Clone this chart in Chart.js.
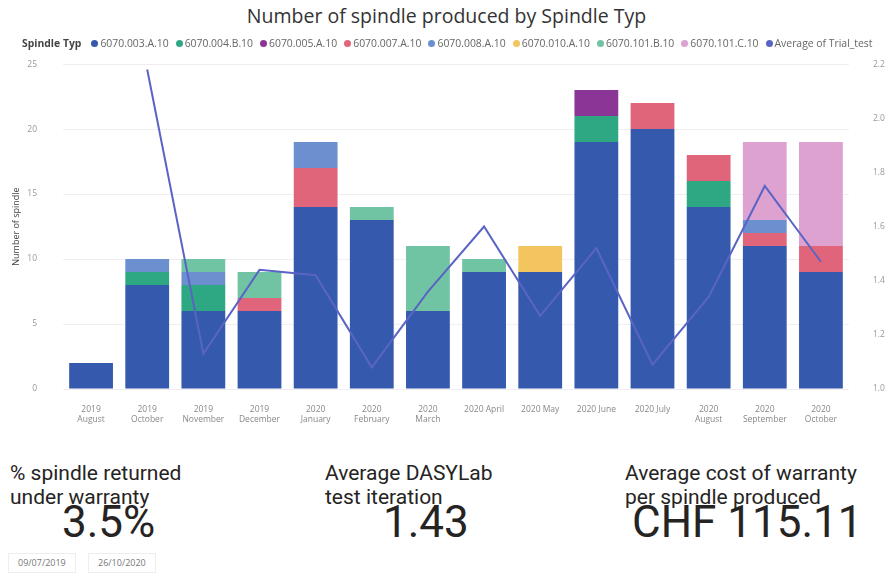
<!DOCTYPE html>
<html>
<head>
<meta charset="utf-8">
<script src="https://cdn.jsdelivr.net/npm/chart.js@4.4.1/dist/chart.umd.min.js"></script>
<style>
  body { margin: 0; width: 893px; height: 576px; background: #fff; font-family: "Open Sans", sans-serif; position: relative; overflow: hidden; }
  #title { position: absolute; top: 2px; left: 0; width: 893px; text-align: center; font-size: 19.5px; color: #333; }
  #legend { position: absolute; top: 36px; left: 22px; display: flex; align-items: center; font-size: 10.4px; color: #666; white-space: nowrap; z-index: 2; }
  #legend .ttl { font-weight: bold; color: #444; margin-right: 10px; }
  #legend .item { display: flex; align-items: center; margin-right: 7px; }
  #legend .dot { width: 7px; height: 7px; border-radius: 50%; margin-right: 2px; }
  #chart-box { position: absolute; left: 0; top: 33px; width: 893px; height: 396px; }
  .card-label { position: absolute; font-family: "Roboto", sans-serif; font-size: 21px; line-height: 24px; color: #252423; }
  .card-value { position: absolute; font-family: "Roboto", sans-serif; font-size: 44px; color: #252423; }
  .date { position: absolute; top: 553px; height: 18px; border: 1px solid #eee; font-size: 9px; color: #777; line-height: 18px; padding: 0 9px; }
</style>
</head>
<body>
<div id="title">Number of spindle produced by Spindle Typ</div>
<div id="legend"><span class="ttl">Spindle Typ</span></div>
<div id="chart-box"><canvas id="spindle-chart"></canvas></div>

<div class="card-label" style="left:10px; top:461px;">% spindle returned<br>under warranty</div>
<div class="card-label" style="left:325px; top:461px;">Average DASYLab<br>test iteration</div>
<div class="card-label" style="left:625px; top:461px;">Average cost of warranty<br>per spindle produced</div>
<div class="card-value" style="left:62px; top:496px;">3.5%</div>
<div class="card-value" style="left:383px; top:496px;">1.43</div>
<div class="card-value" style="left:632px; top:496px;">CHF 115.11</div>
<div class="date" style="left:8px;">09/07/2019</div>
<div class="date" style="left:88px;">26/10/2020</div>

<script>
// months on the x axis
const months = [
  ['2019', 'August'], ['2019', 'October'], ['2019', 'November'], ['2019', 'December'],
  ['2020', 'January'], ['2020', 'February'], ['2020', 'March'],
  '2020 April', '2020 May', '2020 June', '2020 July',
  ['2020', 'August'], ['2020', 'September'], ['2020', 'October']
];

// spindles produced per type
const type003A = [2, 8, 6, 6, 14, 13, 6, 9, 9, 19, 20, 14, 11, 9];
const type004B = [0, 1, 2, 0, 0, 0, 0, 0, 0, 2, 0, 2, 0, 0];
const type005A = [0, 0, 0, 0, 0, 0, 0, 0, 0, 2, 0, 0, 0, 0];
const type007A = [0, 0, 0, 1, 3, 0, 0, 0, 0, 0, 2, 2, 1, 2];
const type008A = [0, 1, 1, 0, 2, 0, 0, 0, 0, 0, 0, 0, 1, 0];
const type010A = [0, 0, 0, 0, 0, 0, 0, 0, 2, 0, 0, 0, 0, 0];
const type101B = [0, 0, 1, 2, 0, 1, 5, 1, 0, 0, 0, 0, 0, 0];
const type101C = [0, 0, 0, 0, 0, 0, 0, 0, 0, 0, 0, 0, 6, 8];

// average of Trial_test (right axis)
const avgTrial = [null, 2.18, 1.13, 1.44, 1.42, 1.08, 1.36, 1.6, 1.27, 1.52, 1.09, 1.34, 1.75, 1.47];

const leftTicks = [0, 5, 10, 15, 20, 25];
const rightTicks = [1.0, 1.2, 1.4, 1.6, 1.8, 2.0, 2.2];

function bar(label, data, color) {
  return {
    type: 'bar',
    label: label,
    data: data.map(v => v === 0 ? null : v),
    backgroundColor: color,
    stack: 's',
    yAxisID: 'y',
    order: 1,
    categoryPercentage: 1,
    barPercentage: 0.78
  };
}

const datasets = [
  bar('6070.003.A.10', type003A, '#3559ad'),
  bar('6070.004.B.10', type004B, '#2ea882'),
  bar('6070.005.A.10', type005A, '#8b3597'),
  bar('6070.007.A.10', type007A, '#e0657a'),
  bar('6070.008.A.10', type008A, '#6c8fcf'),
  bar('6070.010.A.10', type010A, '#f2c55e'),
  bar('6070.101.B.10', type101B, '#70c4a3'),
  bar('6070.101.C.10', type101C, '#dda2d0'),
  {
    type: 'line',
    label: 'Average of Trial_test',
    data: avgTrial,
    borderColor: '#5a64c4',
    backgroundColor: '#5a64c4',
    borderWidth: 2,
    pointRadius: 0,
    tension: 0,
    spanGaps: false,
    yAxisID: 'y1',
    order: 0
  }
];

// html legend built from the datasets
const legendEl = document.getElementById('legend');
datasets.forEach(ds => {
  const item = document.createElement('span');
  item.className = 'item';
  const dot = document.createElement('span');
  dot.className = 'dot';
  dot.style.background = ds.backgroundColor;
  item.appendChild(dot);
  item.appendChild(document.createTextNode(ds.label));
  legendEl.appendChild(item);
});

const tickFont = { family: 'Open Sans', size: 8.5 };

// right axis labels, placed with the y1 scale (tick padding did not behave)
const rightLabels = {
  id: 'rightLabels',
  afterDraw(chart) {
    const sc = chart.scales.y1;
    const c = chart.ctx;
    c.save();
    c.font = '8.5px "Open Sans"';
    c.fillStyle = '#999';
    c.textAlign = 'left';
    c.textBaseline = 'middle';
    rightTicks.forEach(v => {
      c.fillText(v.toFixed(1), chart.chartArea.right + 24, sc.getPixelForValue(v));
    });
    c.restore();
  }
};

new Chart(document.getElementById('spindle-chart').getContext('2d'), {
  data: { labels: months, datasets: datasets },
  plugins: [rightLabels],
  options: {
    responsive: true,
    maintainAspectRatio: false,
    animation: false,
    layout: { padding: { top: 13, left: 0, right: 0, bottom: 0 } },
    plugins: { legend: { display: false }, tooltip: { enabled: false } },
    scales: {
      x: {
        stacked: true,
        grid: { display: false },
        border: { display: false },
        ticks: { color: '#888', font: tickFont, maxRotation: 0, autoSkip: false, padding: 7 },
        afterFit: s => { s.height = 40; }
      },
      y: {
        stacked: true,
        position: 'left',
        min: 0,
        max: 25,
        afterBuildTicks: s => { s.ticks = leftTicks.map(v => ({ value: v })); },
        grid: { color: '#efefef', drawTicks: false },
        border: { display: false },
        ticks: { color: '#999', font: tickFont, padding: 26 },
        title: { display: true, text: 'Number of spindle', color: '#444', font: { family: 'Open Sans', size: 9 }, padding: { top: 11, bottom: 0 } },
        afterFit: s => { s.width = 63; }
      },
      y1: {
        position: 'right',
        min: 1.0,
        max: 2.2,
        grid: { display: false, drawTicks: false },
        border: { display: false },
        ticks: { display: false },
        afterFit: s => { s.width = 44; }
      }
    }
  }
});
</script>
</body>
</html>
